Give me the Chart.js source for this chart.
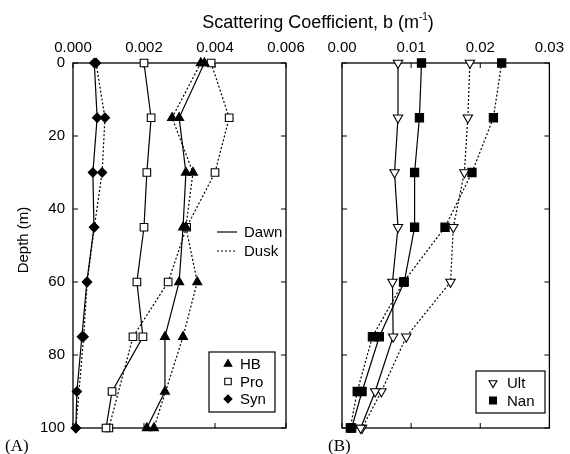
<!DOCTYPE html>
<html>
<head>
<meta charset="utf-8">
<script src="https://cdn.jsdelivr.net/npm/chart.js@4/dist/chart.umd.min.js"></script>
<style>
  body { margin: 0; background: #fff; }
  #wrap { position: relative; width: 570px; height: 454px; font-family: "Liberation Sans", Arial, sans-serif; color: #000; }
  canvas { position: absolute; left: 0; top: 0; }
  .txt { position: absolute; white-space: nowrap; line-height: 1; }
  .serif { font-family: "Liberation Serif", "Times New Roman", serif; font-size: 17px; }
</style>
</head>
<body>
<div id="wrap">
  <canvas id="panelA" width="570" height="454"></canvas>
  <canvas id="panelB" width="570" height="454"></canvas>
  <div class="txt" style="left:318px; top:22px; transform:translate(-50%,-50%); font-size:18px;">Scattering Coefficient, b (m<sup style="font-size:10px; vertical-align:8px; line-height:0">-1</sup>)</div>
  <div class="txt" style="left:22px; top:240px; transform:translate(-50%,-50%) rotate(-90deg); font-size:15px;">Depth (m)</div>
  <div class="txt serif" style="left:5px; top:437px;">(A)</div>
  <div class="txt serif" style="left:328px; top:437px;">(B)</div>
</div>
<script>
// depth levels (m)
const depths = [0, 15, 30, 45, 60, 75, 90, 100];
const depthTicks = ["0", "20", "40", "60", "80", "100"];
const xTicksA = ["0.000", "0.002", "0.004", "0.006"];
const xTicksB = ["0.00", "0.01", "0.02", "0.03"];

// panel A - HB, Pro, Syn (null = not sampled)
const hbDawn = [0.00370, 0.00299, 0.00318, 0.00310, 0.00299, 0.00259, 0.00259, 0.00208];
const hbDusk = [0.00360, 0.00279, 0.00338, 0.00318, 0.00350, 0.00310, null, 0.00228];
const proDawn = [0.00200, 0.00220, 0.00208, 0.00200, 0.00180, 0.00197, 0.00110, 0.00093];
const proDusk = [0.00389, 0.00440, 0.00400, 0.00320, 0.00268, 0.00169, null, 0.00101];
const synDawn = [0.00060, 0.00068, 0.00056, 0.00059, 0.00039, 0.00025, 0.00011, 0.00008];
const synDusk = [0.00065, 0.00090, 0.00082, 0.00060, 0.00040, 0.00030, null, 0.00008];

// panel B - Ult, Nan
const ultDawn = [0.0081, 0.0081, 0.0076, 0.0081, 0.0073, 0.0074, 0.0048, 0.0027];
const ultDusk = [0.0185, 0.0182, 0.0177, 0.0161, 0.0157, 0.0093, 0.0057, 0.0029];
const nanDawn = [0.0115, 0.0112, 0.0105, 0.0105, 0.0090, 0.0054, 0.0029, 0.0014];
const nanDusk = [0.0231, 0.0219, 0.0188, 0.0149, 0.0089, 0.0044, 0.0022, 0.0012];

const FONT = "'Liberation Sans', Arial, sans-serif";

const markers = {
    HB:  { pointStyle: "triangle", radius: 5.2, rotation: 0, fill: "#000" },
    Pro: { pointStyle: "rect", radius: 5.4, rotation: 0, fill: "#fff" },
    Syn: { pointStyle: "rectRot", radius: 4.6, rotation: 0, fill: "#000" },
    Ult: { pointStyle: "triangle", radius: 5.4, rotation: 180, fill: "#fff" },
    Nan: { pointStyle: "rect", radius: 5.8, rotation: 0, fill: "#000" }
};

function toPoints(vals) {
    return depths.map((d, i) => ({ x: vals[i], y: d })).filter(p => p.x !== null);
}

function series(name, vals, dusk) {
    const m = markers[name];
    return {
        label: name + (dusk ? " Dusk" : " Dawn"),
        data: toPoints(vals),
        borderColor: "#000",
        borderWidth: 1.2,
        borderDash: dusk ? [2, 2] : [],
        backgroundColor: m.fill,
        pointStyle: m.pointStyle,
        pointRadius: m.radius,
        pointRotation: m.rotation,
        pointBackgroundColor: m.fill,
        pointBorderColor: "#000",
        pointBorderWidth: 1.1,
        tension: 0,
        clip: false
    };
}

// frame + inward tick marks, then the in-plot legends
const framePlugin = {
    id: "frame",
    beforeDatasetsDraw(chart) {
        const { ctx, chartArea: a, scales } = chart;
        ctx.save();
        ctx.strokeStyle = "#000";
        ctx.lineWidth = 1.3;
        ctx.setLineDash([]);
        ctx.strokeRect(a.left, a.top, a.right - a.left, a.bottom - a.top);
        ctx.lineWidth = 1;
        scales.x.ticks.forEach(t => {
            const px = scales.x.getPixelForValue(t.value);
            ctx.beginPath();
            ctx.moveTo(px, a.top); ctx.lineTo(px, a.top + 5);
            ctx.moveTo(px, a.bottom); ctx.lineTo(px, a.bottom - 5);
            ctx.stroke();
        });
        scales.y.ticks.forEach(t => {
            const py = scales.y.getPixelForValue(t.value);
            ctx.beginPath();
            ctx.moveTo(a.left, py); ctx.lineTo(a.left + 5, py);
            ctx.moveTo(a.right, py); ctx.lineTo(a.right - 5, py);
            ctx.stroke();
        });
        ctx.restore();
    },
    afterDraw(chart, args, opts) {
        const ctx = chart.ctx;
        ctx.save();
        ctx.font = "15px " + FONT;
        ctx.textBaseline = "middle";
        ctx.fillStyle = "#000";
        (opts.lines || []).forEach(l => {
            ctx.strokeStyle = "#000";
            ctx.lineWidth = 1.2;
            ctx.setLineDash(l.dash);
            ctx.beginPath();
            ctx.moveTo(l.x, l.y); ctx.lineTo(l.x + 20, l.y);
            ctx.stroke();
            ctx.setLineDash([]);
            ctx.fillText(l.text, l.x + 27, l.y + 1);
        });
        if (opts.box) {
            const b = opts.box;
            ctx.lineWidth = 1.2;
            ctx.strokeStyle = "#000";
            ctx.fillStyle = "#fff";
            ctx.fillRect(b.x, b.y, b.w, b.h);
            ctx.strokeRect(b.x, b.y, b.w, b.h);
            b.items.forEach((name, i) => {
                const m = markers[name];
                const y = b.y + b.first + i * b.gap;
                ctx.fillStyle = m.fill;
                ctx.strokeStyle = "#000";
                ctx.lineWidth = 1.1;
                Chart.helpers.drawPoint(ctx, {
                    pointStyle: m.pointStyle, rotation: m.rotation,
                    radius: m.radius * 0.85, borderWidth: 1.1
                }, b.x + b.sym, y);
                ctx.fillStyle = "#000";
                ctx.fillText(name, b.x + b.text, y + 1);
            });
        }
        ctx.restore();
    }
};

function makeOptions(xMax, xLabels, showY, pad, legend) {
    const xStep = xMax / 3;
    return {
        responsive: false,
        animation: false,
        events: [],
        layout: { padding: pad },
        plugins: { legend: { display: false }, tooltip: { enabled: false }, frame: legend },
        scales: {
            x: {
                type: "linear",
                position: "top",
                min: 0,
                max: xMax,
                grid: { display: false, drawTicks: false },
                border: { display: false },
                ticks: {
                    stepSize: xStep,
                    padding: 6,
                    color: "#000",
                    font: { family: FONT, size: 15 },
                    callback: v => xLabels[Math.round(v / xStep)]
                },
                afterFit: s => { s.height = 63; }
            },
            y: {
                type: "linear",
                reverse: true,
                min: 0,
                max: 100,
                grid: { display: false, drawTicks: false },
                border: { display: false },
                ticks: {
                    display: showY,
                    stepSize: 20,
                    padding: 8,
                    color: "#000",
                    font: { family: FONT, size: 15 },
                    callback: v => depthTicks[Math.round(v / 20)]
                },
                afterFit: s => { s.width = showY ? 73 : 0; }
            }
        }
    };
}

new Chart(document.getElementById("panelA"), {
    type: "line",
    data: {
        datasets: [
            series("HB", hbDawn, false), series("HB", hbDusk, true),
            series("Pro", proDawn, false), series("Pro", proDusk, true),
            series("Syn", synDawn, false), series("Syn", synDusk, true)
        ]
    },
    options: makeOptions(0.006, xTicksA, true, { left: 0, top: 0, right: 284, bottom: 26 }, {
        lines: [
            { x: 217, y: 232, dash: [], text: "Dawn" },
            { x: 217, y: 251, dash: [2, 2], text: "Dusk" }
        ],
        box: { x: 209, y: 352, w: 66, h: 60, first: 12, gap: 17.5, sym: 19, text: 31, items: ["HB", "Pro", "Syn"] }
    }),
    plugins: [framePlugin]
});

new Chart(document.getElementById("panelB"), {
    type: "line",
    data: {
        datasets: [
            series("Ult", ultDawn, false), series("Ult", ultDusk, true),
            series("Nan", nanDawn, false), series("Nan", nanDusk, true)
        ]
    },
    options: makeOptions(0.03, xTicksB, false, { left: 342, top: 0, right: 14, bottom: 26 }, {
        box: { x: 476, y: 371, w: 69, h: 42, first: 12, gap: 17.5, sym: 17, text: 31, items: ["Ult", "Nan"] }
    }),
    plugins: [framePlugin]
});
</script>
</body>
</html>
